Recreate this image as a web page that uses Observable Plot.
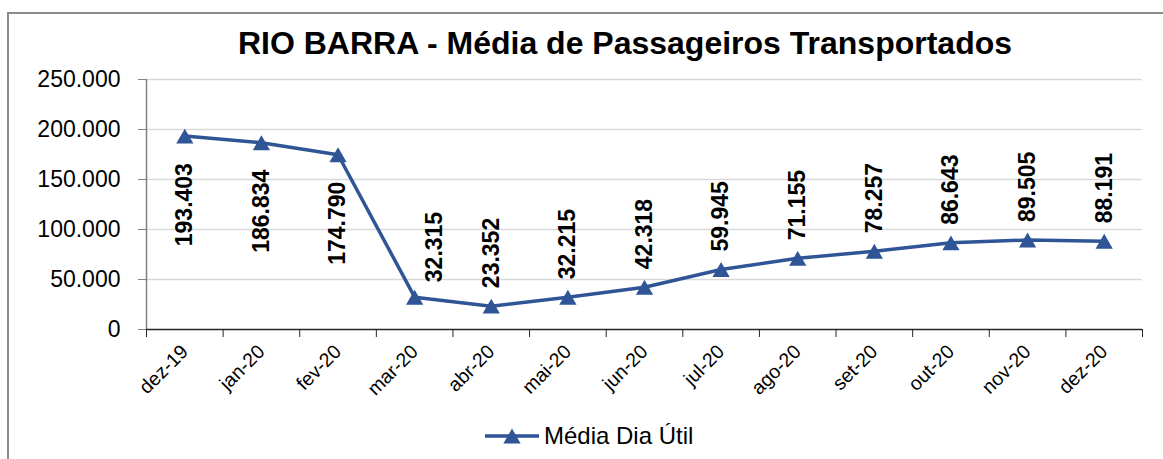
<!DOCTYPE html>
<html>
<head>
<meta charset="utf-8">
<script src="https://cdn.jsdelivr.net/npm/d3@7"></script>
<script src="https://cdn.jsdelivr.net/npm/@observablehq/plot@0.6"></script>
<style>
  html, body { margin: 0; padding: 0; background: #fff; }
  #wrap { position: relative; width: 1163px; height: 459px; overflow: hidden; font-family: "Liberation Sans", Arial, sans-serif; }
  #frame { position: absolute; left: 7px; top: 12px; width: 1170px; height: 470px; border: 2px solid #8c8c8c; box-sizing: border-box; }
  #title { position: absolute; left: 0; width: 1250px; top: 25px; text-align: center; font-weight: bold; font-size: 32px; color: #000; white-space: nowrap; }
  #chart { position: absolute; left: 0; top: 0; }
  #legend { position: absolute; left: 484px; top: 422px; display: flex; align-items: center; font-size: 24px; color: #000; white-space: nowrap; }
</style>
</head>
<body>
<div id="wrap">
  <div id="frame"></div>
  <div id="chart"></div>
  <div id="title">RIO BARRA - Média de Passageiros Transportados</div>
  <div id="legend"></div>
</div>
<script>
const months = ["dez-19","jan-20","fev-20","mar-20","abr-20","mai-20","jun-20","jul-20","ago-20","set-20","out-20","nov-20","dez-20"];
const values = [193403,186834,174790,32315,23352,32215,42318,59945,71155,78257,86643,89505,88191];
const yTicks = [0,50000,100000,150000,200000,250000];
const seriesName = "Média Dia Útil";

const data = months.map((m, i) => ({month: m, idx: i + 0.5, value: values[i], i}));
const fmt = v => d3.format(",")(v).replace(/,/g, ".");
const blue = "#2F5597";
const below = data.filter(d => d.i <= 2);
const aboveShift = data.filter(d => d.i === 3);
const above = data.filter(d => d.i > 3);

const plot = Plot.plot({
  width: 1163,
  height: 459,
  marginLeft: 146,
  marginRight: 21,
  marginTop: 79,
  marginBottom: 130,
  style: {fontFamily: "'Liberation Sans', Arial, sans-serif", background: "transparent", overflow: "visible"},
  x: {type: "linear", domain: [0, months.length]},
  y: {domain: [0, 250000]},
  marks: [
    Plot.gridY(yTicks.filter(t => t > 0), {stroke: "#d9d9d9", strokeOpacity: 1, strokeWidth: 1.3}),
    Plot.axisY({ticks: yTicks, tickFormat: fmt, tickSize: 8, tickPadding: 18, fontSize: 23, stroke: "#808080", fill: "#000", label: null}),
    Plot.ruleX([0], {y1: 0, y2: 250000, stroke: "#808080", strokeWidth: 1.5}),
    Plot.ruleY([0], {stroke: "#262626", strokeWidth: 1.5}),
    Plot.axisX({ticks: d3.range(months.length + 1), tickFormat: () => "", tickSize: 8, stroke: "#262626", label: null}),
    Plot.axisX({ticks: data.map(d => d.idx), tickFormat: v => months[Math.floor(v)], tickSize: 0, tickPadding: 19, tickRotate: -45, fontSize: 19.5, fill: "#000", label: null}),
    Plot.line(data, {x: "idx", y: "value", stroke: blue, strokeWidth: 3.5}),
    Plot.dot(data, {x: "idx", y: "value", symbol: "triangle", r: 6.4, fill: blue, stroke: null, dy: 2.5}),
    Plot.text(below, {x: "idx", y: "value", text: d => fmt(d.value), rotate: -90, textAnchor: "end", dy: 27, fontSize: 23, fontWeight: "bold", fill: "#000"}),
    Plot.text(aboveShift, {x: "idx", y: "value", text: d => fmt(d.value), rotate: -90, textAnchor: "start", dy: -15, dx: 20, fontSize: 23, fontWeight: "bold", fill: "#000"}),
    Plot.text(above, {x: "idx", y: "value", text: d => fmt(d.value), rotate: -90, textAnchor: "start", dy: -18, fontSize: 23, fontWeight: "bold", fill: "#000"})
  ]
});
document.getElementById("chart").appendChild(plot);

// legend
const leg = d3.select("#legend");
const sw = leg.append("svg").attr("width", 58).attr("height", 24);
sw.append("line").attr("x1", 1).attr("x2", 55).attr("y1", 12).attr("y2", 12).attr("stroke", blue).attr("stroke-width", 3.5);
sw.append("path").attr("d", d3.symbol(d3.symbolTriangle, 130)()).attr("transform", "translate(28,14.5)").attr("fill", blue);
leg.append("span").text(seriesName).style("margin-left", "2px");
</script>
</body>
</html>
